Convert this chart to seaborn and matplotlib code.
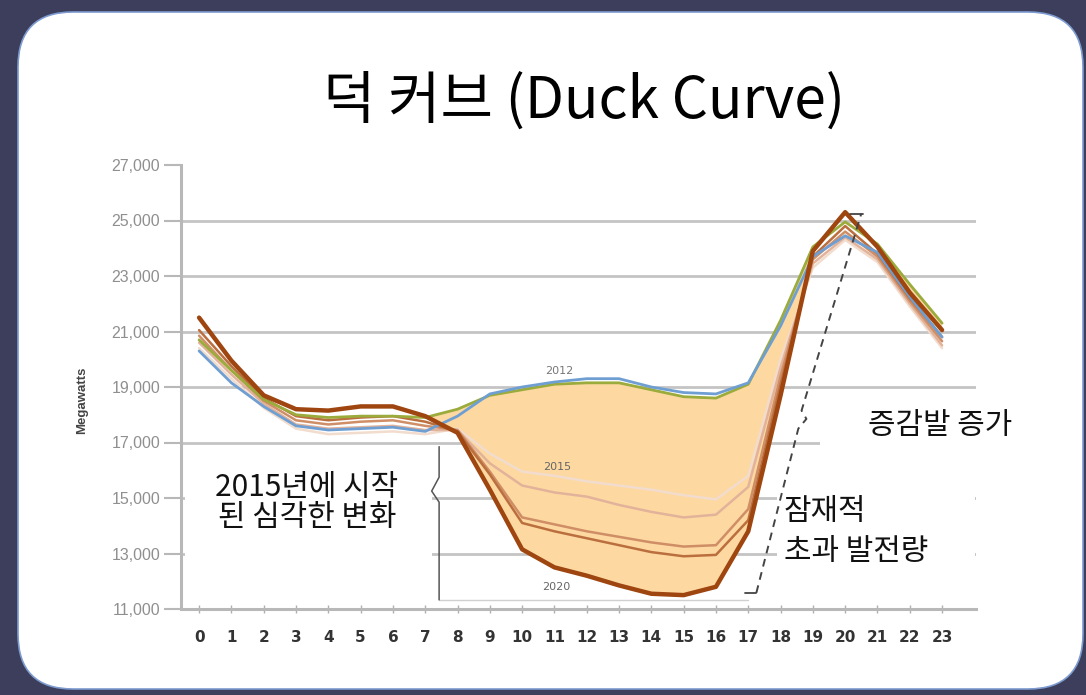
import matplotlib
matplotlib.use("Agg")
import matplotlib.pyplot as plt
from matplotlib.patches import FancyBboxPatch, Rectangle
import numpy as np
import pandas as pd
import seaborn as sns

# ---------------- data ----------------
hours = list(range(24))
load_2012 = [20300, 19150, 18300, 17600, 17450, 17500, 17550, 17400, 17950, 18750, 19000, 19180,
             19300, 19300, 19000, 18800, 18750, 19150, 21200, 23700, 24450, 23850, 22250, 20800]
load_2013 = [20700, 19600, 18550, 18000, 17900, 17950, 17950, 17900, 18200, 18700, 18900, 19100,
             19150, 19150, 18900, 18650, 18600, 19100, 21400, 24050, 24950, 24150, 22700, 21300]
load_2015 = [20400, 19300, 18250, 17500, 17300, 17350, 17400, 17300, 17500, 16600, 15950, 15800,
             15600, 15450, 15300, 15100, 14950, 15800, 20000, 23300, 24300, 23500, 21900, 20400]
load_2016 = [20600, 19450, 18400, 17650, 17500, 17550, 17600, 17450, 17450, 16250, 15450, 15200,
             15050, 14750, 14500, 14300, 14400, 15400, 19700, 23450, 24400, 23600, 22000, 20500]
load_2017 = [20850, 19600, 18500, 17800, 17650, 17750, 17800, 17600, 17450, 15950, 14300, 14050,
             13800, 13600, 13400, 13250, 13300, 14600, 19400, 23600, 24600, 23700, 22100, 20650]
load_2018 = [21050, 19750, 18600, 17950, 17800, 17900, 17950, 17750, 17400, 15850, 14100, 13800,
             13550, 13300, 13050, 12900, 12950, 14200, 19100, 23700, 24800, 23800, 22200, 20800]
load_2020 = [21500, 19950, 18700, 18200, 18150, 18300, 18300, 17950, 17350, 15300, 13150, 12500,
             12200, 11850, 11550, 11500, 11800, 13800, 18700, 23900, 25300, 24050, 22400, 21050]

years = ["2015", "2016", "2017", "2018", "2013", "2012", "2020"]
series = {"2012": load_2012, "2013": load_2013, "2015": load_2015, "2016": load_2016,
          "2017": load_2017, "2018": load_2018, "2020": load_2020}
line_colors = {"2012": "#6f9fd2", "2013": "#9bab3c", "2015": "#f2dccd", "2016": "#e2b39a",
               "2017": "#cf8e66", "2018": "#bb6f3f", "2020": "#9e4510"}
line_widths = {"2012": 2.0, "2013": 2.0, "2015": 1.8, "2016": 1.8, "2017": 1.8,
               "2018": 1.8, "2020": 3.2}

y_ticks = list(range(11000, 27001, 2000))
x_labels = [str(h) for h in hours]

df = pd.DataFrame({
    "hour": hours * len(years),
    "MW": sum((series[y] for y in years), []),
    "year": sum(([y] * len(hours) for y in years), []),
})

# ---------------- style ----------------
sns.set_theme(style="white")
plt.rcParams['font.family'] = ['Noto Sans CJK KR', 'DejaVu Sans']

W, H = 1086, 695
fig = plt.figure(figsize=(W / 100, H / 100), dpi=100)
fig.patch.set_facecolor("#3c3e5b")


def fx(px):
    return px / W


def fy(py):
    return 1 - py / H


# background rounded white panel
bg = fig.add_axes([0, 0, 1, 1], zorder=0)
bg.set_xlim(0, W)
bg.set_ylim(H, 0)
bg.axis("off")
bg.add_patch(FancyBboxPatch((18, 12), 1065, 677,
                            boxstyle="round,pad=0,rounding_size=55",
                            fc="white", ec="#7d9bd0", lw=1.2))

# main axes
ax = fig.add_axes([fx(181), fy(609), fx(976) - fx(181), fy(165) - fy(609)], zorder=1)
ax.patch.set_alpha(0)
ax.set_xlim(-0.56, 24.05)
ax.set_ylim(11000, 27000)

for v in y_ticks[1:-1]:
    ax.axhline(v, color="#c4c4c4", lw=2.0, zorder=0.5)

# white masks behind annotation texts
for (x0, y0, x1, y1) in [(185, 455, 432, 603), (820, 396, 976, 464), (777, 483, 975, 603)]:
    ax.add_patch(Rectangle((fx(x0), fy(y1)), fx(x1) - fx(x0), fy(y0) - fy(y1),
                           transform=fig.transFigure, fc="white", ec="none",
                           zorder=1, clip_on=False))

# over-generation area
lo = np.array(load_2020)
hi = np.array(load_2013)
ax.fill_between(hours, lo, hi, where=hi >= lo, interpolate=True,
                color="#fdd9a1", lw=0, zorder=2)

for i, yr in enumerate(years):
    sns.lineplot(data=df[df["year"] == yr], x="hour", y="MW", ax=ax,
                 color=line_colors[yr], lw=line_widths[yr], zorder=3 + i,
                 legend=False)

# year labels on the curves
ax.text(11.15, 19560, "2012", fontsize=8, color="#777777", family="DejaVu Sans",
        ha="center", va="center", zorder=12)
ax.text(11.1, 16120, "2015", fontsize=8, color="#666666", family="DejaVu Sans",
        ha="center", va="center", zorder=12)
ax.text(11.05, 11780, "2020", fontsize=8, color="#666666", family="DejaVu Sans",
        ha="center", va="center", zorder=12)

# bracket on the left (2015 change)
ax.plot([7.43, 7.43, 7.2, 7.43, 7.43], [16850, 15750, 15250, 14850, 11330],
        color="#555555", lw=1.1, zorder=12)
ax.plot([7.43, 17.0], [11330, 11330], color="#d0d0d0", lw=1.0, zorder=1.5)

# dashed bracket on the right (ramp)
ax.plot([16.9, 17.25], [11580, 11580], color="#444444", lw=1.3, zorder=12)
ax.plot([17.25, 18.55, 18.8, 18.65, 20.5], [11580, 17500, 17850, 18150, 25250],
        color="#444444", lw=1.4, ls=(0, (4, 3)), zorder=12)
ax.plot([20.15, 20.55], [25250, 25250], color="#444444", lw=1.3, zorder=12)

# axes styling
sns.despine(ax=ax)
for s in ["left", "bottom"]:
    ax.spines[s].set_color("#b8b8b8")
    ax.spines[s].set_linewidth(2.2)
ax.set_yticks(y_ticks)
ax.set_yticklabels([f"{v:,}" for v in y_ticks], color="#8f8f8f", fontsize=11.5,
                   family=["Liberation Sans", "DejaVu Sans"])
ax.set_xticks(hours)
ax.set_xticklabels(x_labels, color="#333333", fontsize=11, fontweight="bold",
                   family=["Liberation Sans Narrow", "DejaVu Sans"])
ax.tick_params(axis="y", direction="out", length=12, width=1.5, color="#b8b8b8", pad=3, left=True)
ax.tick_params(axis="x", direction="inout", length=6, width=1.0, color="#b0b0b0", pad=12, bottom=True)
ax.set_xlabel("")
ax.set_ylabel("Megawatts", fontsize=9.5, fontweight="bold", color="#444444",
              family=["Liberation Sans", "DejaVu Sans"])
ax.yaxis.set_label_coords(-0.117, 0.47)

# texts
fig.text(fx(584), fy(101), "덕 커브 (Duck Curve)", fontsize=41, color="black",
         ha="center", va="center")
fig.text(fx(307), fy(487), "2015년에 시작", fontsize=21.5, color="#111111", ha="center", va="center")
fig.text(fx(307), fy(518), "된 심각한 변화", fontsize=21.5, color="#111111", ha="center", va="center")
fig.text(fx(940), fy(426), "증감발 증가", fontsize=21.5, color="#111111", ha="center", va="center")
fig.text(fx(784), fy(512), "잠재적", fontsize=21.5, color="#111111", ha="left", va="center")
fig.text(fx(784), fy(551), "초과 발전량", fontsize=21.5, color="#111111", ha="left", va="center")

fig.savefig("out.png", dpi=100, facecolor=fig.get_facecolor())
